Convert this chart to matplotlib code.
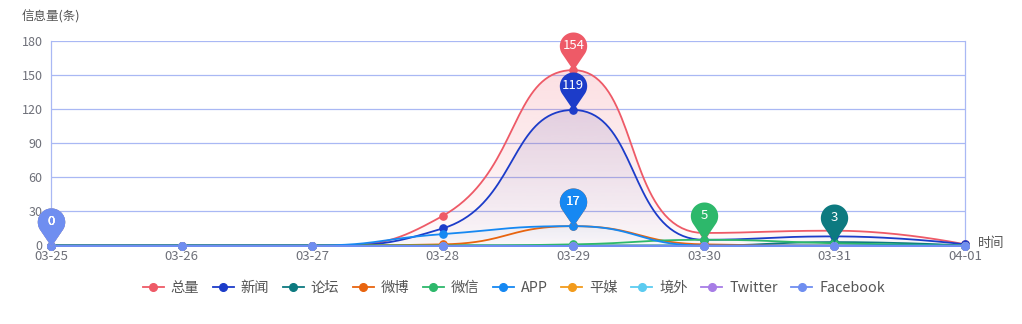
import numpy as np
import matplotlib
matplotlib.use("Agg")
import matplotlib.pyplot as plt
from matplotlib.path import Path
from matplotlib.patches import PathPatch, Rectangle
from matplotlib.lines import Line2D
from matplotlib.colors import to_rgb

plt.rcParams['font.family'] = ['Noto Sans CJK SC', 'DejaVu Sans']

# ---------------- data ----------------
dates = ["03-25", "03-26", "03-27", "03-28", "03-29", "03-30", "03-31", "04-01"]
series_names = ["总量", "新闻", "论坛", "微博", "微信", "APP", "平媒", "境外", "Twitter", "Facebook"]
total    = [0, 0, 0, 26, 154, 11, 13, 1]
news     = [0, 0, 0, 15, 119, 5, 8, 1]
forum    = [0, 0, 0, 0, 0, 0, 3, 0]
weibo    = [0, 0, 0, 1, 17, 1, 0, 0]
wechat   = [0, 0, 0, 0, 1, 5, 2, 0]
app      = [0, 0, 0, 10, 17, 0, 0, 0]
press    = [0, 0, 0, 0, 0, 0, 0, 0]
overseas = [0, 0, 0, 0, 0, 0, 0, 0]
twitter  = [0, 0, 0, 0, 0, 0, 0, 0]
facebook = [0, 0, 0, 0, 0, 0, 0, 0]
series_values = [total, news, forum, weibo, wechat, app, press, overseas, twitter, facebook]
colors = ["#ee5a67", "#1c3cc9", "#0d7a80", "#e8640f", "#2db86b", "#1688f2",
          "#f29b1c", "#5ccbf0", "#a77de6", "#6f8ef0"]
y_ticks = [0, 30, 60, 90, 120, 150, 180]

# ---------------- figure ----------------
W, H = 1022, 324
fig = plt.figure(figsize=(W / 100, H / 100), dpi=100)
L, R, T, B = 51, 965, 40.5, 245.5
ax = fig.add_axes([L / W, 1 - B / H, (R - L) / W, (B - T) / H])
ax.set_xlim(0, len(dates) - 1)
ax.set_ylim(0, 180)

dx_px = (R - L) / (len(dates) - 1)
sy_px = (B - T) / 180.0


def smooth_curve(vals, smooth=0.5, n=40):
    """ECharts-style smoothed polyline (with control-point constraint), in pixel space."""
    P = np.column_stack([np.arange(len(vals)) * dx_px, np.asarray(vals, float) * sy_px])
    N = len(P)
    t = np.linspace(0, 1, n)[:, None]
    out = [P[:1]]
    cp0 = P[0].copy()
    for i in range(1, N):
        x, y = P[i]
        px, py = P[i - 1]
        nxt_cp = None
        if i + 1 >= N:
            cp1 = np.array([x, y])
        else:
            nx, ny = P[i + 1]
            vx, vy = nx - px, ny - py
            lp = np.hypot(x - px, y - py)
            ln = np.hypot(nx - x, ny - y)
            ratio = ln / (ln + lp)
            ncx = x + vx * smooth * ratio
            ncy = y + vy * smooth * ratio
            ncx = min(ncx, max(nx, x)); ncy = min(ncy, max(ny, y))
            ncx = max(ncx, min(nx, x)); ncy = max(ncy, min(ny, y))
            vx, vy = ncx - x, ncy - y
            c1x = x - vx * lp / ln
            c1y = y - vy * lp / ln
            c1x = min(c1x, max(px, x)); c1y = min(c1y, max(py, y))
            c1x = max(c1x, min(px, x)); c1y = max(c1y, min(py, y))
            vx, vy = x - c1x, y - c1y
            ncx = x + vx * ln / lp
            ncy = y + vy * ln / lp
            cp1 = np.array([c1x, c1y])
            nxt_cp = np.array([ncx, ncy])
        p0, p3 = P[i - 1], P[i]
        seg = (1 - t) ** 3 * p0 + 3 * (1 - t) ** 2 * t * cp0 + 3 * (1 - t) * t ** 2 * cp1 + t ** 3 * p3
        out.append(seg[1:])
        if nxt_cp is not None:
            cp0 = nxt_cp
    c = np.vstack(out)
    return c[:, 0] / dx_px, c[:, 1] / sy_px


# clip rectangle slightly larger than the grid (like echarts clip)
pad_px = 1.5
clip_rect = Rectangle(((L - pad_px) / W, 1 - (B + pad_px) / H),
                      (R - L + 2 * pad_px) / W, (B - T + 2 * pad_px) / H,
                      transform=fig.transFigure, facecolor="none", edgecolor="none")

# grid
grid_c = "#a9b8f4"
for yv in y_ticks[1:]:
    ax.axhline(yv, color=grid_c, lw=0.9, zorder=0)
for s in ["top", "bottom"]:
    ax.spines[s].set_visible(False)
for s in ["left", "right"]:
    ax.spines[s].set_color(grid_c)
    ax.spines[s].set_linewidth(0.9)

# gradient area fills
fills = {0: ("#f06272", 0.20, 0.03), 1: ("#6a62b8", 0.17, 0.02), 5: ("#1688f2", 0.05, 0.0)}
for idx, (fc, a_top, a_bot) in fills.items():
    vals = series_values[idx]
    cx, cy = smooth_curve(vals)
    cy = np.maximum(cy, 0)
    verts = np.vstack([np.column_stack([cx, cy]), [[cx[-1], 0], [cx[0], 0]]])
    path = Path(verts, closed=False)
    patch = PathPatch(path, facecolor="none", edgecolor="none", transform=ax.transData)
    ax.add_patch(patch)
    rgb = to_rgb(fc)
    top = max(vals)
    grad = np.zeros((256, 1, 4))
    grad[:, 0, :3] = rgb
    grad[:, 0, 3] = np.linspace(a_top, a_bot, 256)
    im = ax.imshow(grad, extent=[0, len(dates) - 1, 0, top], aspect="auto",
                   origin="upper", zorder=1, interpolation="bicubic")
    im.set_clip_path(patch)
ax.set_xlim(0, len(dates) - 1)
ax.set_ylim(0, 180)

# lines
xs = np.arange(len(dates))
for i, (name, vals, c) in enumerate(zip(series_names, series_values, colors)):
    cx, cy = smooth_curve(vals)
    lw = 2.2 if name == "Facebook" else 1.3
    ln, = ax.plot(cx, cy, color=c, lw=lw, zorder=3 + i * 0.01, solid_capstyle="round")
    ln.set_clip_path(clip_rect)
    ax.plot(xs, vals, linestyle="none", marker="o", ms=5.2, color=c, mec=c,
            zorder=3 + i * 0.01, clip_on=False)

# pin marker path (tip at origin)
r, cyc = 0.36, 0.64
phi = np.arccos(r / cyc)
theta = np.linspace(-np.pi / 2 + phi, 3 * np.pi / 2 - phi, 60)
arc = np.column_stack([r * np.cos(theta), cyc + r * np.sin(theta)])
pin_verts = np.vstack([[0, 0], arc, [0, 0]])
pin_path = Path(pin_verts, closed=True)
pin_h_pt = 38 * 0.72

for i, (name, vals, c) in enumerate(zip(series_names, series_values, colors)):
    k = int(np.argmax(vals))
    ax.plot([xs[k]], [vals[k]], marker=pin_path, ms=pin_h_pt * 2, color=c, mec="none",
            linestyle="none", zorder=5 + i * 0.01, clip_on=False)
    ax.annotate(str(vals[k]), (xs[k], vals[k]), xytext=(0, pin_h_pt * cyc),
                textcoords="offset points", ha="center", va="center", color="white",
                fontsize=9.5, zorder=6 + i * 0.01, annotation_clip=False)

# ticks
ax.set_yticks(y_ticks)
ax.set_yticklabels([str(v) for v in y_ticks])
ax.set_xticks(xs)
ax.set_xticklabels(dates)
ax.tick_params(axis="both", length=0, labelcolor="#6e7079")
ax.tick_params(axis="y", pad=6, labelsize=9)
ax.tick_params(axis="x", pad=3, labelsize=9.5)

fig.text(22 / W, 1 - 17 / H, "信息量(条)", fontsize=9, color="#555555", ha="left", va="center")
fig.text(978 / W, 1 - 244 / H, "时间", fontsize=9.5, color="#555555", ha="left", va="center")

# legend
handles = [Line2D([0], [0], color=c, lw=1.3, marker="o", ms=5.5) for c in colors]
fig.legend(handles, series_names, loc="center", bbox_to_anchor=(514 / W, 1 - 288 / H),
           ncol=len(series_names), frameon=False, fontsize=10.3, handlelength=1.45,
           handletextpad=0.5, columnspacing=0.95, labelcolor="#555555")

fig.savefig("out.png", dpi=100)
